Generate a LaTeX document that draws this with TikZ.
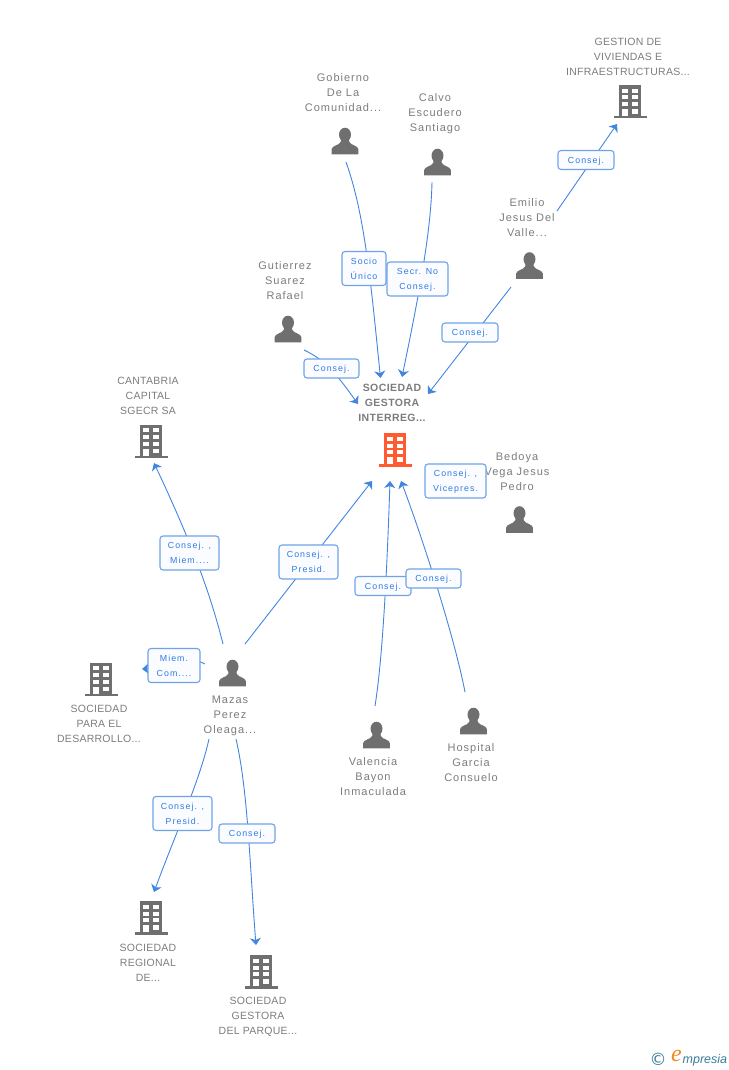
\documentclass[tikz,border=0pt]{standalone}
\usepackage{fontspec}
\setmainfont{Liberation Sans}
\newfontfamily\ent[LetterSpace=9]{Liberation Sans}
\newfontfamily\entu[LetterSpace=2.5]{Liberation Sans}
\newfontfamily\entb[LetterSpace=4]{Liberation Sans}
\newfontfamily\edg[LetterSpace=12]{Liberation Sans}
\newfontfamily\ser{Liberation Serif}
\newfontfamily\sym{DejaVu Sans}
\usetikzlibrary{arrows.meta,backgrounds}
\definecolor{icongray}{HTML}{6F6F6F}
\definecolor{textgray}{HTML}{7C7C7C}
\definecolor{linkblue}{HTML}{4285E0}
\definecolor{boxblue}{HTML}{6FA3E6}
\definecolor{boxfill}{HTML}{FBFCFF}
\definecolor{edgeblue}{HTML}{2F7BE0}
\definecolor{hot}{HTML}{FF5A30}
\definecolor{logoteal}{HTML}{3A7C98}
\definecolor{logoorange}{HTML}{F08A20}
\tikzset{
 x=1pt,y=-1pt,
 ent/.style={inner sep=0pt,align=center,text=textgray,font=\fontsize{11}{15}\selectfont\ent},
 entup/.style={inner sep=0pt,align=center,text=textgray,font=\fontsize{10.5}{15}\selectfont\entu},
 edgebox/.style={draw=boxblue,line width=1.1pt,rounded corners=3pt,fill=boxfill,inner sep=0pt,align=center,text=edgeblue,font=\fontsize{8.8}{15}\selectfont\edg,minimum height=19pt,text depth=0pt},
 edgetwo/.style={edgebox,minimum height=34pt},
 link/.style={draw=linkblue,line width=0.9pt},
 tip/.style={link,-{Stealth[length=7pt,width=11pt,inset=2pt]}},
 pics/building/.style={code={
   \fill[#1] (-11,-16.5) rectangle (11.3,14.5);
   \fill[#1] (-16,14.5) rectangle (16.5,17);
   \foreach \cx in {-7.7,2.3}{\foreach \cy in {-12.7,-6,0.7}{\fill[white] (\cx,\cy) rectangle +(5.5,4);}}
   \fill[white] (-7.7,7.7) rectangle (-2.2,14.5);
   \fill[white] (2.3,7.7) rectangle (7.8,12.3);
 }},
 pics/person/.style={code={
   \fill[icongray] (0,-6.3) ellipse (6 and 7);
   \fill[icongray] (-13.3,13.3) -- (-13.3,8) .. controls (-13,4.5) and (-6,4.5) .. (-4.3,1) -- (-4,-2) -- (4,-2) -- (4.3,1) .. controls (6,4.5) and (13,4.5) .. (13.3,8) -- (13.3,13.3) -- cycle;
 }},
}
\begin{document}
\begin{tikzpicture}
\useasboundingbox (0,0) rectangle (728,1070);

% icons
\pic at (630,101.5) {building=icongray};
\pic at (151,441) {building=icongray};
\pic at (395,449.5) {building=hot};
\pic at (101,679) {building=icongray};
\pic at (151,917.5) {building=icongray};
\pic at (261,971.5) {building=icongray};
\pic at (345,141) {person};
\pic at (437.5,162) {person};
\pic at (529.5,265.5) {person};
\pic at (288,329) {person};
\pic at (519.5,519.5) {person};
\pic at (232.5,673) {person};
\pic at (376.5,735) {person};
\pic at (473.5,721) {person};

% entity labels
\node[entup] (gestion) at (628,57) {GESTION DE\\VIVIENDAS E\\INFRAESTRUCTURAS...};
\node[ent] (gobierno) at (343,93) {Gobierno\\De La\\Comunidad...};
\node[ent] (calvo) at (435,114) {Calvo\\Escudero\\Santiago};
\node[ent] (emilio) at (527,218) {Emilio\\Jesus Del\\Valle...};
\node[ent] (gutierrez) at (285,281) {Gutierrez\\Suarez\\Rafael};
\node[entup] (cantabria) at (148,395.5) {CANTABRIA\\CAPITAL\\SGECR SA};
\node[entup,font=\fontsize{10.5}{15}\selectfont\bfseries\entb] (central) at (392,403) {SOCIEDAD\\GESTORA\\INTERREG...};
\node[ent] (bedoya) at (517,472) {Bedoya\\Vega Jesus\\Pedro};
\node[ent] (mazas) at (230,715.5) {Mazas\\Perez\\Oleaga...};
\node[entup] (para) at (99,723.5) {SOCIEDAD\\PARA EL\\DESARROLLO...};
\node[ent] (valencia) at (373,777) {Valencia\\Bayon\\Inmaculada};
\node[ent] (hospital) at (471,763) {Hospital\\Garcia\\Consuelo};
\node[entup] (regional) at (148,962.5) {SOCIEDAD\\REGIONAL\\DE...};
\node[entup] (parque) at (258,1016.5) {SOCIEDAD\\GESTORA\\DEL PARQUE...};

% connector ends
\coordinate (gobS) at (346,162);   \coordinate (gobT) at (380.5,378);
\coordinate (calS) at (432,182);   \coordinate (calT) at (402,377);
\coordinate (emiS) at (511,287);   \coordinate (emiT) at (428,394);
\coordinate (em2S) at (557,211);   \coordinate (em2T) at (617,124);
\coordinate (gutS) at (304,350);   \coordinate (gutT) at (358,404);
\coordinate (mazS) at (245,644);   \coordinate (mazT) at (372,481);
\coordinate (valS) at (375,706);   \coordinate (valT) at (390,481);
\coordinate (hosS) at (465,692);   \coordinate (hosT) at (401,481);
\coordinate (canS) at (223,644);   \coordinate (canT) at (154,463);
\coordinate (parS) at (205,664);   \coordinate (parT) at (142,669);
\coordinate (regS) at (209,739);   \coordinate (regT) at (154,892);
\coordinate (pqS)  at (236,739);   \coordinate (pqT)  at (256,945);

% edge boxes
\node[edgetwo,minimum width=44pt] (eGob) at (364,268.5) {Socio\\Único};
\node[edgetwo,minimum width=61pt] (eCal) at (417.5,279) {Secr. No\\Consej.};
\node[edgebox,minimum width=56pt] (eEmi) at (470,332.5) {Consej.};
\node[edgebox,minimum width=56pt] (eEm2) at (586,160) {Consej.};
\node[edgebox,minimum width=55pt] (eGut) at (331.5,368.5) {Consej.};
\node[edgetwo,minimum width=61pt] (eBed) at (455.5,481) {Consej. ,\\Vicepres.};
\node[edgetwo,minimum width=59pt] (eMaz) at (308.5,562) {Consej. ,\\Presid.};
\node[edgebox,minimum width=56pt] (eVal) at (383,586) {Consej.};
\node[edgebox,minimum width=55pt] (eHos) at (433.5,578.5) {Consej.};
\node[edgetwo,minimum width=59pt] (eCan) at (189.5,553) {Consej. ,\\Miem....};
\node[edgetwo,minimum width=52pt] (ePar) at (174,665.5) {Miem.\\Com....};
\node[edgetwo,minimum width=59pt] (eReg) at (182.5,813.5) {Consej. ,\\Presid.};
\node[edgebox,minimum width=56pt] (ePq)  at (247,833.5) {Consej.};

% connectors, under the boxes
\begin{scope}[on background layer]
\draw[tip] (gobS) .. controls (365,215) and (371,285) .. (gobT);
\draw[tip] (calS) .. controls (431,230) and (420,290) .. (calT);
\draw[tip] (emiS) -- (emiT);
\draw[tip] (em2S) -- (em2T);
\draw[tip] (gutS) .. controls (325,360) and (335,372) .. (gutT);
\draw[tip] (mazS) -- (mazT);
\draw[tip] (valS) .. controls (384,650) and (388,540) .. (valT);
\draw[tip] (hosS) .. controls (455,640) and (425,545) .. (hosT);
\draw[tip] (canS) .. controls (212,600) and (195,550) .. (canT);
\draw[tip] (parS) .. controls (190,655) and (165,668) .. (parT);
\draw[tip] (regS) .. controls (200,780) and (175,835) .. (regT);
\draw[tip] (pqS) .. controls (248,790) and (250,870) .. (pqT);
\end{scope}

% logo
\node[inner sep=0pt,text=logoteal,font=\fontsize{17}{17}\selectfont\sym] (copy) at (658,1059) {©};
\node[inner sep=0pt,text=logoorange,font=\fontsize{24}{24}\selectfont\itshape\ser] (logoe) at (676.5,1056) {e};
\node[inner sep=0pt,anchor=west,text=logoteal,font=\fontsize{12.5}{13}\selectfont\itshape] (logot) at (682.5,1060) {mpresia};
\end{tikzpicture}
\end{document}
